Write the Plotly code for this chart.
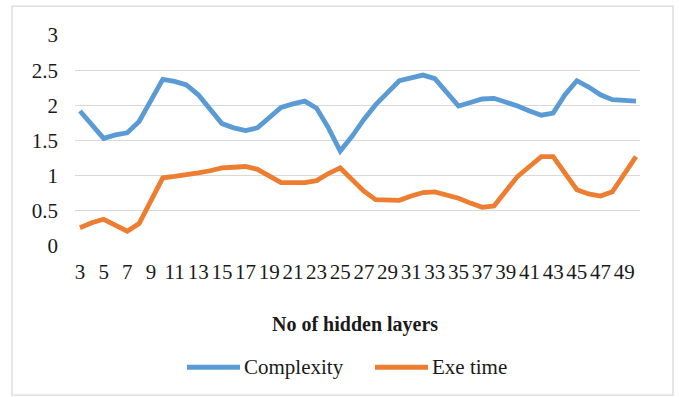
import plotly.graph_objects as go

# Number of hidden layers (3..50) and the measured series
hidden_layers = list(range(3, 51))
complexity = [1.92, 1.72, 1.53, 1.58, 1.61, 1.77, 2.08, 2.37, 2.34, 2.29,
              2.15, 1.94, 1.74, 1.68, 1.64, 1.68, 1.83, 1.97, 2.02, 2.06,
              1.96, 1.68, 1.35, 1.56, 1.80, 2.01, 2.18, 2.35, 2.39, 2.43,
              2.38, 2.18, 1.99, 2.04, 2.09, 2.10, 2.05, 1.99, 1.92, 1.86,
              1.89, 2.15, 2.35, 2.26, 2.15, 2.08, 2.07, 2.06]
exe_time = [0.26, 0.33, 0.38, 0.29, 0.21, 0.32, 0.66, 0.97, 0.99, 1.01,
            1.04, 1.07, 1.11, 1.12, 1.13, 1.09, 0.99, 0.90, 0.90, 0.90,
            0.93, 1.03, 1.11, 0.94, 0.78, 0.66, 0.66, 0.65, 0.71, 0.76,
            0.77, 0.73, 0.68, 0.61, 0.55, 0.57, 0.78, 0.99, 1.13, 1.27,
            1.27, 1.04, 0.80, 0.74, 0.71, 0.77, 1.01, 1.27]
series_names = ["Complexity", "Exe time"]
series_colors = ["#5B9BD5", "#ED7D31"]
x_ticks = list(range(3, 50, 2))
y_ticks = [0, 0.5, 1, 1.5, 2, 2.5, 3]
y_tick_text = ["0", "0.5", "1", "1.5", "2", "2.5", "3"]

FONT = "Liberation Serif"
TEXT = "#1a1a1a"

# plot area in pixels: 565 wide, 211.5 tall
PW, PH = 565.0, 211.5

fig = go.Figure()
for name, vals, col in zip(series_names, [complexity, exe_time], series_colors):
    fig.add_trace(go.Scatter(x=hidden_layers, y=vals, mode="lines", name=name,
                             line=dict(color=col, width=4.8), showlegend=False))

# legend drawn below the axis title with long Excel-style keys
legend_y = (246.5 - 368) / PH
key_spans = [(187, 240), (375, 428)]
shapes = []
annotations = [dict(text="<b>No of hidden layers</b>", xref="paper", yref="paper",
                    x=(355 - 75) / PW, y=(246.5 - 325) / PH,
                    xanchor="center", yanchor="middle", showarrow=False,
                    font=dict(family=FONT, size=20, color=TEXT))]
for (a, b), name, col in zip(key_spans, series_names, series_colors):
    shapes.append(dict(type="line", xref="paper", yref="paper",
                       x0=(a - 75) / PW, x1=(b - 75) / PW, y0=legend_y, y1=legend_y,
                       line=dict(color=col, width=5)))
    annotations.append(dict(text=name, xref="paper", yref="paper",
                            x=(b + 2 - 75) / PW, y=legend_y,
                            xanchor="left", yanchor="middle", showarrow=False,
                            font=dict(family=FONT, size=21, color=TEXT)))

# outer chart border
shapes.append(dict(type="rect", xref="paper", yref="paper",
                   x0=-63 / PW, x1=598 / PW, y0=-149.5 / PH, y1=240.5 / PH,
                   line=dict(color="#D9D9D9", width=1.3), fillcolor="rgba(0,0,0,0)"))

fig.update_layout(
    width=679, height=397,
    margin=dict(l=75, r=39, t=35, b=150.5),
    paper_bgcolor="white", plot_bgcolor="white",
    font=dict(family=FONT, size=21, color=TEXT),
    showlegend=False,
    xaxis=dict(range=[2.58, 50.34], tickmode="array", tickvals=x_ticks,
               showgrid=False, zeroline=False, showline=False, ticks="",
               ticklabelstandoff=11,
               tickfont=dict(family=FONT, size=21, color=TEXT)),
    yaxis=dict(range=[0, 3], tickmode="array", tickvals=y_ticks, ticktext=y_tick_text,
               showgrid=True, gridcolor="#D9D9D9", gridwidth=1.3,
               zeroline=False, showline=False, ticks="",
               ticklabelstandoff=16,
               tickfont=dict(family=FONT, size=21, color=TEXT)),
    annotations=annotations,
    shapes=shapes,
)

fig.write_html("out.html")
